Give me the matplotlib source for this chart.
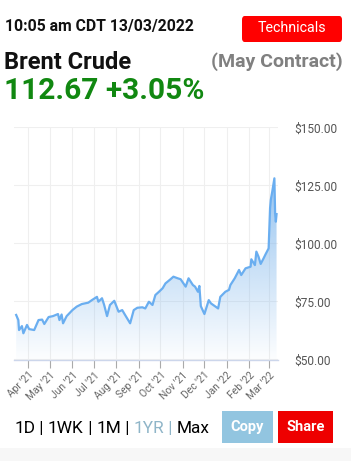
import matplotlib
matplotlib.use("Agg")
import matplotlib.pyplot as plt
import matplotlib.dates as mdates
from matplotlib.patches import FancyBboxPatch, Rectangle
import numpy as np
import pandas as pd

plt.rcParams['font.family'] = ['Roboto', 'DejaVu Sans']

# ---- data ----
dates = ["2021-03-15", "2021-03-18", "2021-03-19", "2021-03-23", "2021-03-25", "2021-03-30",
         "2021-04-02", "2021-04-09", "2021-04-15", "2021-04-20", "2021-04-23", "2021-04-29",
         "2021-05-05", "2021-05-12", "2021-05-14", "2021-05-17", "2021-05-19", "2021-05-24",
         "2021-06-01", "2021-06-07", "2021-06-14", "2021-06-23", "2021-06-28", "2021-07-05",
         "2021-07-07", "2021-07-12", "2021-07-15", "2021-07-19", "2021-07-23", "2021-07-29",
         "2021-08-04", "2021-08-09", "2021-08-13", "2021-08-20", "2021-08-25", "2021-08-30",
         "2021-09-06", "2021-09-10", "2021-09-15", "2021-09-20", "2021-09-24", "2021-09-29",
         "2021-10-04", "2021-10-08", "2021-10-15", "2021-10-19", "2021-10-25", "2021-10-29",
         "2021-11-05", "2021-11-09", "2021-11-15", "2021-11-18", "2021-11-22", "2021-11-24",
         "2021-11-26", "2021-12-01", "2021-12-07", "2021-12-10", "2021-12-20", "2021-12-23",
         "2021-12-30", "2022-01-04", "2022-01-06", "2022-01-12", "2022-01-18", "2022-01-21",
         "2022-01-27", "2022-02-03", "2022-02-04", "2022-02-09", "2022-02-11", "2022-02-14",
         "2022-02-17", "2022-02-21", "2022-02-24", "2022-02-28", "2022-03-02", "2022-03-03",
         "2022-03-05", "2022-03-08", "2022-03-09", "2022-03-10", "2022-03-11"]
prices = [69.2, 67.0, 62.7, 64.4, 61.3, 64.9,
          63.1, 62.7, 67.0, 67.2, 65.3, 68.3,
          68.7, 69.6, 67.0, 69.4, 65.6, 68.7,
          71.3, 72.8, 73.9, 74.5, 75.6, 77.0,
          74.9, 76.4, 73.5, 68.7, 73.5, 75.3,
          70.6, 71.3, 69.2, 65.6, 71.3, 72.3,
          72.5, 72.0, 74.9, 73.5, 77.8, 79.2,
          80.7, 82.8, 84.6, 85.7, 85.0, 84.6,
          81.4, 85.0, 82.1, 81.4, 79.2, 81.7,
          73.0, 69.6, 75.6, 74.2, 72.0, 77.0,
          79.2, 80.0, 82.1, 85.0, 88.6, 86.4,
          89.3, 90.0, 93.2, 90.7, 96.5, 94.3,
          91.2, 93.6, 95.5, 97.9, 115.2, 118.8,
          122.3, 128.1, 113.0, 109.4, 112.67]
month_ticks = pd.date_range("2021-04-01", "2022-03-01", freq="MS")
month_labels = [d.strftime("%b '%y") for d in month_ticks]
y_ticks = [50, 75, 100, 125, 150]
y_labels = ["$%.2f" % v for v in y_ticks]
periods = ["1D", "1WK", "1M", "1YR", "Max"]

x = pd.to_datetime(dates)
xn = mdates.date2num(x)
y = np.array(prices)

W, H = 351, 461
fig = plt.figure(figsize=(W / 100, H / 100), dpi=100)
fig.patch.set_facecolor("white")

def fx(px):
    return px / W

def fy(py):
    return 1 - py / H

ax = fig.add_axes([fx(14), fy(359.5), fx(278) - fx(14), fy(127.5) - fy(359.5)])
ax.set_facecolor("white")
x0 = mdates.date2num(pd.Timestamp("2021-03-12"))
x1 = mdates.date2num(pd.Timestamp("2022-03-13"))
ax.set_xlim(x0, x1)
ax.set_ylim(50, 150)

# gradient fill clipped to area under line
ymax = y.max()
grad = np.linspace(0.0, 1.0, 256).reshape(-1, 1)
rgba = np.zeros((256, 1, 4))
rgba[..., 0] = 124 / 255
rgba[..., 1] = 181 / 255
rgba[..., 2] = 236 / 255
rgba[..., 3] = 0.02 + 0.78 * grad
poly = ax.fill_between(xn, y, 50, color="none", lw=0)
im = ax.imshow(rgba, aspect="auto", origin="lower",
               extent=[xn[0], xn[-1], 50, ymax], zorder=2, interpolation="bilinear")
im.set_clip_path(poly.get_paths()[0], transform=ax.transData)
ax.plot(xn, y, color="#6aaef0", lw=1.6, zorder=3, solid_joinstyle="round")

# grid
for v in y_ticks:
    ax.axhline(v, color="#efefef", lw=0.8, zorder=0)
for d in mdates.date2num(month_ticks):
    ax.axvline(d, color="#efefef", lw=0.8, zorder=0)

for s in ["top", "left", "right"]:
    ax.spines[s].set_visible(False)
ax.spines["bottom"].set_color("#ccd6eb")
ax.spines["bottom"].set_linewidth(1.0)

ax.set_xticks(mdates.date2num(month_ticks))
ax.set_xticklabels(month_labels, rotation=45, ha="right", rotation_mode="anchor",
                   fontsize=7.4, color="#666666")
ax.tick_params(axis="x", length=5.5, color="#aaaaaa", width=0.8, pad=2)

ax.yaxis.tick_right()
ax.set_yticks(y_ticks)
ax.set_yticklabels(y_labels, fontsize=8.6, color="#555555")
ax.tick_params(axis="y", length=0, pad=12)

# header texts
fig.text(fx(5), fy(27), "10:05 am CDT 13/03/2022", fontsize=11.3, fontweight="bold",
         color="#111111", ha="left", va="center")
btn = FancyBboxPatch((fx(242), fy(42)), fx(100), fy(16) - fy(42),
                     boxstyle="round,pad=0,rounding_size=0.008", transform=fig.transFigure,
                     facecolor="#ff0000", edgecolor="none")
fig.patches.append(btn)
fig.text(fx(292), fy(28.5), "Technicals", fontsize=10.3, color="white",
         ha="center", va="center")
fig.text(fx(4), fy(62), "Brent Crude", fontsize=17, fontweight="bold",
         color="#111111", ha="left", va="center")
fig.text(fx(343), fy(62), "(May Contract)", fontsize=14, fontweight="bold",
         color="#808080", ha="right", va="center")
fig.text(fx(4), fy(91), "112.67 +3.05%", fontsize=21.5, fontweight="bold",
         color="#118811", ha="left", va="center")

# bottom controls
fig.patches.append(Rectangle((0, 0), 1, fy(448), transform=fig.transFigure,
                             facecolor="#f7f7f7", edgecolor="none"))
parts = [("1D", "#000000"), (" | ", "#000000"), ("1WK", "#000000"), (" | ", "#000000"),
         ("1M", "#000000"), (" | ", "#000000"), ("1YR", "#8fb5c8"), (" | ", "#8fb5c8"),
         ("Max", "#000000")]
renderer = fig.canvas.get_renderer()
cx = fx(14)
for txt, col in parts:
    t = fig.text(cx, fy(428), txt, fontsize=12.4, color=col, ha="left", va="center")
    bb = t.get_window_extent(renderer=renderer)
    cx += bb.width / (W)
fig.patches.append(Rectangle((fx(222), fy(443)), fx(51), fy(411) - fy(443),
                             transform=fig.transFigure, facecolor="#92c5e0", edgecolor="none"))
fig.text(fx(247.5), fy(427), "Copy", fontsize=10.5, fontweight="bold", color="white",
         ha="center", va="center")
fig.patches.append(Rectangle((fx(278), fy(443)), fx(55), fy(411) - fy(443),
                             transform=fig.transFigure, facecolor="#ee0000", edgecolor="none"))
fig.text(fx(305.5), fy(427), "Share", fontsize=10.5, fontweight="bold", color="white",
         ha="center", va="center")

fig.savefig("out.png", dpi=100)
